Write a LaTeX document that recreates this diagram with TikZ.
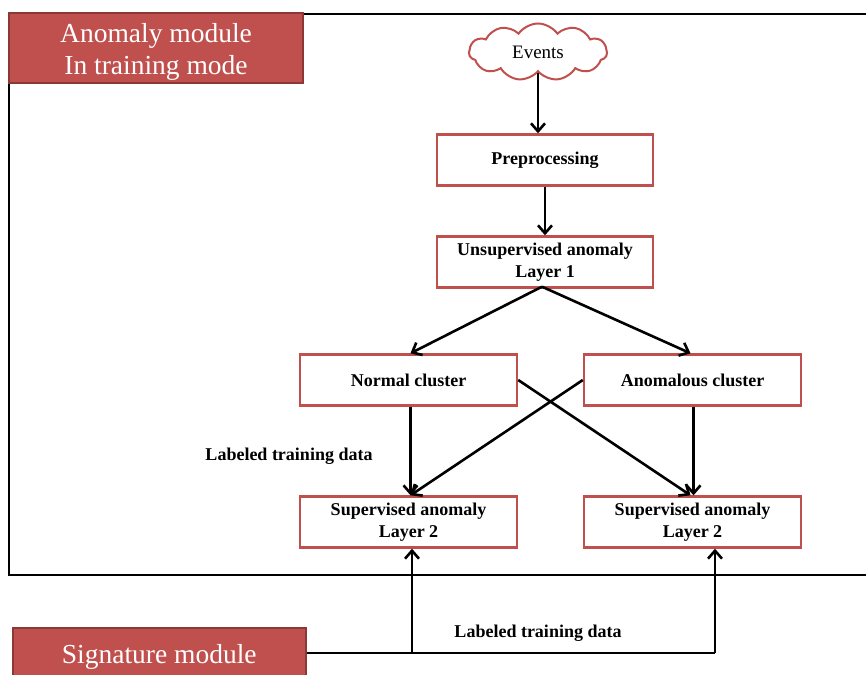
\documentclass[tikz,border=0pt]{standalone}
\usepackage{fontspec}
\setmainfont{Liberation Serif}
\usetikzlibrary{shapes.symbols,arrows.meta}
\definecolor{modred}{HTML}{C0504D}
\definecolor{modedge}{HTML}{8C3836}
\tikzset{
  x=1pt, y=-1pt,
  procbox/.style={draw=modred, line width=2.4pt, fill=white, minimum width=216pt,
    minimum height=51pt, align=center, font=\fontsize{18}{22}\selectfont\bfseries, inner sep=0pt},
  modbox/.style={draw=modedge, line width=1.5pt, fill=modred, text=white, align=center,
    font=\fontsize{27.5}{33}\selectfont, inner sep=0pt},
  arr/.style={draw=black, line width=2.6pt, -{Straight Barb[length=8pt,width=14pt,line width=2.6pt]}},
  plainline/.style={draw=black, line width=2.6pt},
  lbl/.style={font=\fontsize{18}{22}\selectfont\bfseries}
}
\begin{document}
\begin{tikzpicture}
\useasboundingbox (0,0) rectangle (866,674);
\clip (0,0) rectangle (866,674);
\fill[white] (0,0) rectangle (866,674);
% frame of the anomaly module
\draw[line width=2.6pt] (9,14) rectangle (900,575);
\node[modbox, minimum width=294pt, minimum height=70pt] (anom) at (156,48)
  {\raisebox{-4pt}[\height][\depth]{\begin{tabular}{@{}c@{}}Anomaly module\\[-1pt]In training mode\end{tabular}}};
% signature module
\node[modbox, minimum width=293pt, minimum height=70pt, anchor=north west] (sig) at (12,627)
  {\raisebox{6pt}[\height][\depth]{Signature module}};
% processing chain
\node[cloud, cloud puffs=11, cloud puff arc=110, aspect=2.4, draw=modred, line width=2pt,
  minimum width=138pt, minimum height=57pt, inner sep=0pt, font=\fontsize{19}{22}\selectfont] (events) at (538,52) {Events};
\node[procbox] (pre) at (545,160) {Preprocessing};
\node[procbox] (unsup) at (545,262) {Unsupervised anomaly\\Layer 1};
\node[procbox, minimum width=217pt] (normal) at (408.5,380) {Normal cluster};
\node[procbox, minimum width=217pt] (anomc) at (692.5,380) {Anomalous cluster};
\node[procbox, minimum width=217pt] (sup1) at (408.5,522) {Supervised anomaly\\Layer 2};
\node[procbox, minimum width=217pt] (sup2) at (692.5,522) {Supervised anomaly\\Layer 2};
% labels
\node[lbl] (lab1) at (289,456) {Labeled training data};
\node[lbl] (lab2) at (538,633) {Labeled training data};
% connectors
\draw[arr] (events.south) -- (pre.north -| events.south);
\draw[arr] (pre.south) -- (unsup.north);
\draw[arr] ([xshift=-3pt,yshift=2pt]unsup.south) -- ([xshift=2pt]normal.north);
\draw[arr] ([xshift=-3pt,yshift=2pt]unsup.south) -- ([xshift=-2pt]anomc.north);
\draw[arr] ([xshift=2pt]normal.south) -- ([xshift=2pt]sup1.north);
\draw[arr] ([xshift=1pt]anomc.south) -- ([xshift=1pt]sup2.north);
\draw[arr] (normal.east) -- ([xshift=-2pt]sup2.north);
\draw[arr] (anomc.west) -- ([xshift=2pt]sup1.north);
\coordinate (j1) at (412,653);
\coordinate (j2) at (715,653);
\draw[plainline] (sig.east |- j1) -- (j2);
\draw[arr] (j1) -- (sup1.south -| j1);
\draw[arr] (j2) -- (sup2.south -| j2);
\end{tikzpicture}
\end{document}
